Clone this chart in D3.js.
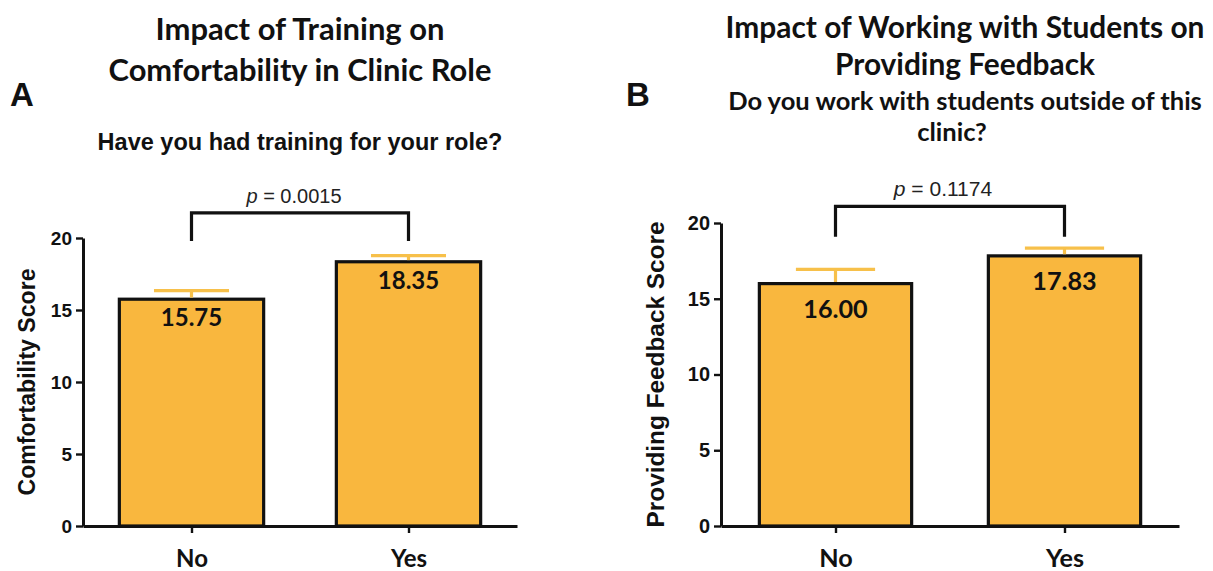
<!DOCTYPE html>
<html>
<head>
<meta charset="utf-8">
<script src="https://cdn.jsdelivr.net/npm/d3@7"></script>
<style>
  html, body { margin: 0; padding: 0; background: #fff; }
  svg { display: block; }
</style>
</head>
<body>
<svg id="fig" width="1213" height="571"></svg>
<script>
// Survey results: mean scores by group, with SEM error bars
const categories = ["No", "Yes"];
const comfortMeans = [15.75, 18.35];
const comfortSEM = [0.59, 0.42];
const feedbackMeans = [16.00, 17.83];
const feedbackSEM = [0.94, 0.51];
const yTicks = [0, 5, 10, 15, 20];
const pValues = ["0.0015", "0.1174"];

const BAR_FILL = "#F9B73E";
const ERR_COLOR = "#F7C04A";
const INK = "#111";

const svg = d3.select("#fig");

// scale text so that it spans a given width; returns the resulting size
function fit(sel, width) {
  const size = parseFloat(sel.attr("font-size"));
  const w = sel.node().getComputedTextLength();
  const s = size * width / w;
  sel.attr("font-size", s.toFixed(2));
  return s;
}

const panels = [
  {
    letter: "A", letterX: 10, letterY: 106,
    title: ["Impact of Training on", "Comfortability in Clinic Role"],
    titleW: [289, 383], titleY: [40, 81], titleCx: 300,
    subtitle: ["Have you had training for your role?"], subW: 405, subY: [150], subCx: [300],
    subFont: "'Liberation Sans', Arial, sans-serif",
    ylabel: "Comfortability Score", ylabelX: 27, ylabelW: 227,
    means: comfortMeans, sem: comfortSEM, p: pValues[0],
    x0: 83, x1: 517, yBottom: 526, yTop: 238,
    k: 1.0, labelOff: 27,
    bracketTop: 21.75, bracketLeg: 19.8, pY: 203, pShift: -6
  },
  {
    letter: "B", letterX: 626, letterY: 106,
    title: ["Impact of Working with Students on", "Providing Feedback"],
    titleW: [479, 260], titleY: [38, 75], titleCx: 965,
    subtitle: ["Do you work with students outside of this", "clinic?"], subW: 474, subY: [110, 141], subCx: [965, 952],
    subFont: "Lato, sans-serif",
    ylabel: "Providing Feedback Score", ylabelX: 655, ylabelW: 306,
    means: feedbackMeans, sem: feedbackSEM, p: pValues[1],
    x0: 721, x1: 1179, yBottom: 526, yTop: 223,
    k: 1.05, labelOff: 34,
    bracketTop: 21.1, bracketLeg: 19.1, pY: 196, pShift: -7
  }
];

panels.forEach(P => {
  const g = svg.append("g");

  // panel letter
  g.append("text")
    .attr("x", P.letterX).attr("y", P.letterY)
    .attr("font-family", "'Liberation Sans', Arial, sans-serif")
    .attr("font-weight", "bold").attr("font-size", 33).attr("fill", INK)
    .text(P.letter);

  // title lines
  P.title.forEach((t, i) => {
    const el = g.append("text")
      .attr("x", P.titleCx).attr("y", P.titleY[i])
      .attr("text-anchor", "middle")
      .attr("font-family", "Lato, sans-serif")
      .attr("font-weight", "bold").attr("font-size", 30).attr("fill", INK)
      .text(t);
    fit(el, P.titleW[i]);
  });

  // question lines: first line sets the size, the rest follow it
  let subSize = 22;
  P.subtitle.forEach((t, i) => {
    const el = g.append("text")
      .attr("x", P.subCx[i]).attr("y", P.subY[i])
      .attr("text-anchor", "middle")
      .attr("font-family", P.subFont)
      .attr("font-weight", "bold").attr("font-size", subSize).attr("fill", INK)
      .text(t);
    if (i === 0) subSize = fit(el, P.subW);
  });

  const x = d3.scalePoint().domain(categories).range([P.x0, P.x1]).padding(0.5);
  const y = d3.scaleLinear().domain([0, 20]).range([P.yBottom, P.yTop]);
  const barW = x.step() * 0.665;
  const capW = barW * 0.52;

  const rows = categories.map((c, i) => ({ c, m: P.means[i], e: P.sem[i] }));

  // bars
  g.selectAll("rect.bar")
    .data(rows)
    .join("rect")
    .attr("class", "bar")
    .attr("x", d => x(d.c) - barW / 2)
    .attr("width", barW)
    .attr("y", d => y(d.m))
    .attr("height", d => y(0) - y(d.m))
    .attr("fill", BAR_FILL)
    .attr("stroke", INK)
    .attr("stroke-width", 3.2);

  // upper error bars
  const eg = g.selectAll("g.err")
    .data(rows)
    .join("g").attr("class", "err")
    .attr("stroke", ERR_COLOR).attr("stroke-width", 3.2);
  eg.append("line")
    .attr("x1", d => x(d.c)).attr("x2", d => x(d.c))
    .attr("y1", d => y(d.m) - 1.6).attr("y2", d => y(d.m + d.e));
  eg.append("line")
    .attr("x1", d => x(d.c) - capW / 2).attr("x2", d => x(d.c) + capW / 2)
    .attr("y1", d => y(d.m + d.e)).attr("y2", d => y(d.m + d.e));

  // value labels
  g.selectAll("text.val")
    .data(rows)
    .join("text")
    .attr("class", "val")
    .attr("x", d => x(d.c))
    .attr("y", d => y(d.m) + P.labelOff)
    .attr("text-anchor", "middle")
    .attr("font-family", "Lato, sans-serif")
    .attr("font-weight", "bold")
    .attr("font-size", 24 * P.k)
    .attr("fill", INK)
    .text(d => d3.format(".2f")(d.m));

  // y axis
  const yAxis = g.append("g")
    .attr("transform", `translate(${P.x0},0)`)
    .call(d3.axisLeft(y).tickValues(yTicks).tickSize(7).tickSizeOuter(0).tickPadding(4));
  yAxis.select(".domain").attr("stroke", INK).attr("stroke-width", 3);
  yAxis.selectAll(".tick line").attr("stroke", INK).attr("stroke-width", 2.4);
  yAxis.selectAll(".tick text")
    .attr("font-family", "'Liberation Sans', Arial, sans-serif")
    .attr("font-weight", "bold")
    .attr("font-size", 19 * P.k)
    .attr("fill", INK);

  // x axis
  const xAxis = g.append("g")
    .attr("transform", `translate(0,${y(0)})`)
    .call(d3.axisBottom(x).tickSize(7).tickSizeOuter(0));
  xAxis.select(".domain").attr("stroke", INK).attr("stroke-width", 3);
  xAxis.selectAll(".tick line").attr("stroke", INK).attr("stroke-width", 2.4);
  xAxis.selectAll(".tick text")
    .attr("y", 41).attr("dy", 0)
    .attr("font-family", "Lato, sans-serif")
    .attr("font-weight", "bold")
    .attr("font-size", 24 * P.k)
    .attr("fill", INK);

  // y axis title
  const yl = g.append("text")
    .attr("transform", `translate(${P.ylabelX},${(y(0) + y(20)) / 2}) rotate(-90)`)
    .attr("text-anchor", "middle")
    .attr("dy", "0.35em")
    .attr("font-family", "'Liberation Sans', Arial, sans-serif")
    .attr("font-weight", "bold")
    .attr("font-size", 22)
    .attr("fill", INK)
    .text(P.ylabel);
  fit(yl, P.ylabelW);

  // significance bracket
  const xa = x(categories[0]), xb = x(categories[1]);
  g.append("path")
    .attr("d", d3.line()([
      [xa, y(P.bracketLeg)], [xa, y(P.bracketTop)],
      [xb, y(P.bracketTop)], [xb, y(P.bracketLeg)]
    ]))
    .attr("fill", "none").attr("stroke", INK).attr("stroke-width", 3.2);

  const pt = g.append("text")
    .attr("x", (xa + xb) / 2 + P.pShift).attr("y", P.pY)
    .attr("text-anchor", "middle")
    .attr("font-family", "'Liberation Sans', Arial, sans-serif")
    .attr("font-size", 20 * P.k)
    .attr("fill", "#222");
  pt.append("tspan").attr("font-style", "italic").text("p");
  pt.append("tspan").text(" = " + P.p);
});
</script>
</body>
</html>
